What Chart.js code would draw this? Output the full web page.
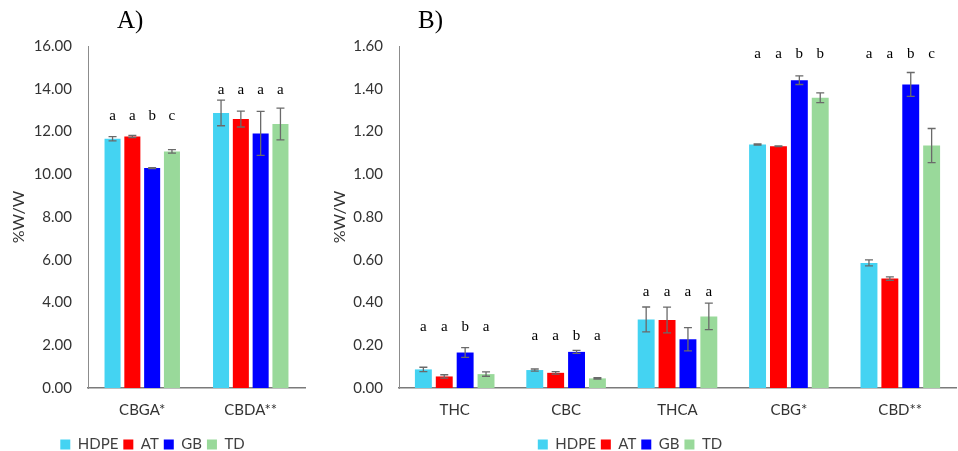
<!DOCTYPE html>
<html>
<head>
<meta charset="utf-8">
<script src="https://cdn.jsdelivr.net/npm/chart.js@4.4.1/dist/chart.umd.min.js"></script>
<style>
  body { margin: 0; background: #fff; }
  #wrap { position: relative; width: 958px; height: 451px; overflow: hidden; }
  canvas { position: absolute; top: 0; }
  #chartA { left: 0; }
  #chartB { left: 304px; }
  .panelTitle { position: absolute; top: 6px; font-family: "Liberation Serif", serif; font-size: 25px; color: #000; }
</style>
</head>
<body>
<div id="wrap">
  <canvas id="chartA" width="320" height="451"></canvas>
  <canvas id="chartB" width="654" height="451"></canvas>
  <div class="panelTitle" style="left:117px">A)</div>
  <div class="panelTitle" style="left:418px">B)</div>
</div>
<script>
'use strict';
// series shared by both panels
var seriesNames = ['HDPE', 'AT', 'GB', 'TD'];
var seriesColors = ['#44D3F2', '#FF0000', '#0000FF', '#99D99A'];

// panel A
var catsA = ['CBGA*', 'CBDA**'];
var hdpeA = [11.66, 12.87];
var atA = [11.77, 12.58];
var gbA = [10.29, 11.91];
var tdA = [11.07, 12.35];
var hdpeErrA = [0.10, 0.60];
var atErrA = [0.05, 0.37];
var gbErrA = [0.02, 1.03];
var tdErrA = [0.08, 0.74];
var lettersA = [['a', 'a', 'b', 'c'], ['a', 'a', 'a', 'a']];
var letterLevelA = [12.70, 13.95];
var yMaxA = 16;
var yStepA = 2;

// panel B
var catsB = ['THC', 'CBC', 'THCA', 'CBG*', 'CBD**'];
var hdpeB = [0.087, 0.084, 0.321, 1.139, 0.585];
var atB = [0.054, 0.071, 0.318, 1.131, 0.512];
var gbB = [0.166, 0.169, 0.228, 1.440, 1.420];
var tdB = [0.065, 0.045, 0.335, 1.358, 1.134];
var hdpeErrB = [0.010, 0.005, 0.058, 0.003, 0.014];
var atErrB = [0.008, 0.006, 0.060, 0.002, 0.008];
var gbErrB = [0.023, 0.007, 0.054, 0.020, 0.056];
var tdErrB = [0.010, 0.003, 0.062, 0.023, 0.080];
var lettersB = [['a', 'a', 'b', 'a'], ['a', 'a', 'b', 'a'], ['a', 'a', 'a', 'a'], ['a', 'a', 'b', 'b'], ['a', 'a', 'b', 'c']];
var letterLevelB = [0.287, 0.243, 0.447, 1.56, 1.56];
var yMaxB = 1.6;
var yStepB = 0.2;

var tickFont = { family: 'Lato, "Open Sans", sans-serif', size: 15 };

// error bars and the significance letters, drawn from the bar elements
function makeMarksPlugin(errs, letters, levels) {
  return {
    id: 'marks',
    afterDatasetsDraw: function(chart) {
      var ctx = chart.ctx;
      var y = chart.scales.y;
      ctx.save();
      chart.data.datasets.forEach(function(ds, i) {
        var meta = chart.getDatasetMeta(i);
        meta.data.forEach(function(bar, j) {
          var v = ds.data[j];
          var e = errs[i][j];
          var top = y.getPixelForValue(v + e);
          var bot = y.getPixelForValue(v - e);
          ctx.strokeStyle = '#6a6a6a';
          ctx.lineWidth = 1.3;
          ctx.beginPath();
          ctx.moveTo(bar.x, top); ctx.lineTo(bar.x, bot);
          ctx.moveTo(bar.x - 4, top); ctx.lineTo(bar.x + 4, top);
          ctx.moveTo(bar.x - 4, bot); ctx.lineTo(bar.x + 4, bot);
          ctx.stroke();
          ctx.fillStyle = '#000';
          ctx.font = '15px "Liberation Serif", serif';
          ctx.textAlign = 'center';
          ctx.textBaseline = 'middle';
          ctx.fillText(letters[j][i], bar.x, y.getPixelForValue(levels[j]));
        });
      });
      ctx.restore();
    }
  };
}

function makePanel(id, cats, series, errs, letters, levels, yMax, yStep, yWidth, padRight, catPct, titlePad) {
  var datasets = series.map(function(vals, i) {
    return {
      label: seriesNames[i],
      data: vals,
      backgroundColor: seriesColors[i],
      borderWidth: 0,
      categoryPercentage: catPct,
      barPercentage: 0.81
    };
  });
  return new Chart(document.getElementById(id), {
    type: 'bar',
    data: { labels: cats, datasets: datasets },
    options: {
      responsive: false,
      animation: false,
      layout: { padding: { top: 46, right: padRight, bottom: -11, left: 0 } },
      plugins: {
        tooltip: { enabled: false },
        legend: {
          position: 'bottom',
          labels: { boxWidth: 10, boxHeight: 10, padding: 5, color: '#404040', font: tickFont }
        }
      },
      scales: {
        x: {
          grid: { display: false, drawTicks: false },
          border: { display: true, color: '#7a7a7a', width: 1.5 },
          ticks: { color: '#333', font: tickFont, padding: 13 }
        },
        y: {
          min: 0,
          max: yMax,
          grid: { display: false, drawTicks: false },
          border: { display: true, color: '#8c8c8c', width: 1 },
          ticks: {
            stepSize: yStep,
            color: '#333',
            font: tickFont,
            padding: 16,
            callback: function(v) { return Number(v).toFixed(2); }
          },
          title: { display: true, text: '%W/W', color: '#333', font: { family: tickFont.family, size: 16 }, padding: { top: titlePad, bottom: 0 } },
          afterFit: function(s) { s.width = yWidth; }
        }
      }
    },
    plugins: [makeMarksPlugin(errs, letters, levels)]
  });
}

makePanel('chartA', catsA, [hdpeA, atA, gbA, tdA], [hdpeErrA, atErrA, gbErrA, tdErrA],
  lettersA, letterLevelA, yMaxA, yStepA, 88, 15, 0.73, 9);
makePanel('chartB', catsB, [hdpeB, atB, gbB, tdB], [hdpeErrB, atErrB, gbErrB, tdErrB],
  lettersB, letterLevelB, yMaxB, yStepB, 95, 2, 0.75, 26);
</script>
</body>
</html>
